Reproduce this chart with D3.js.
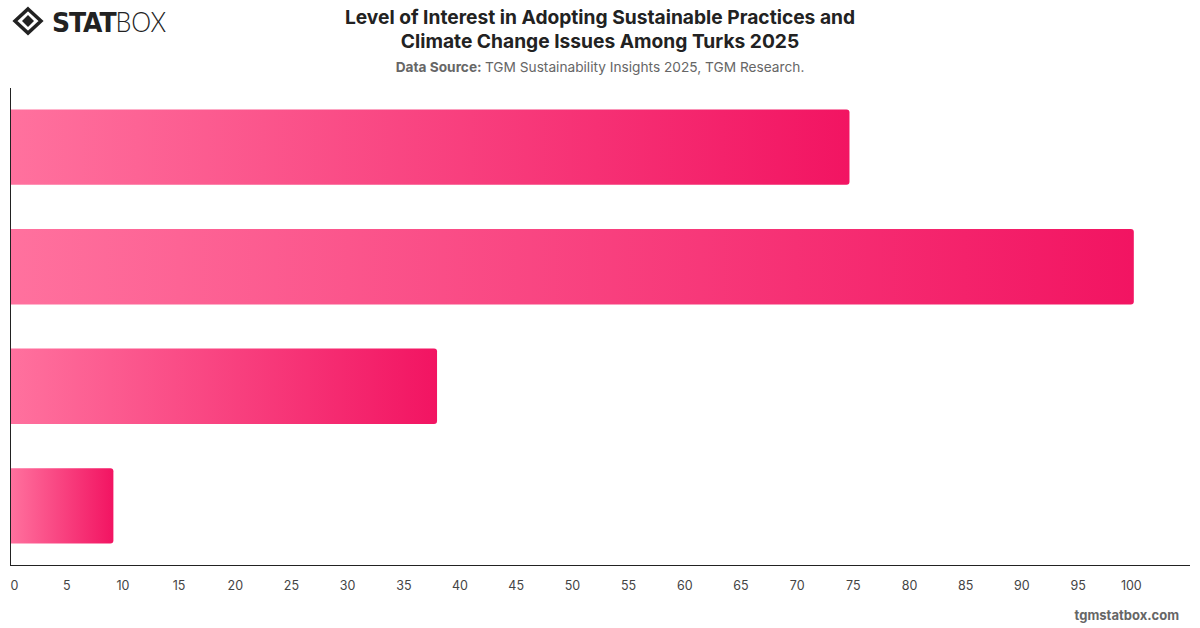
<!DOCTYPE html>
<html>
<head>
<meta charset="utf-8">
<script src="https://cdn.jsdelivr.net/npm/d3@7"></script>
<style>
  html, body { margin: 0; padding: 0; background: #fff; }
  svg { display: block; font-family: Inter, "Noto Sans", sans-serif; }
</style>
</head>
<body>
<svg id="chart" width="1200" height="628"></svg>
<script>
(function () {
  'use strict';

  // ── Data ────────────────────────────────────────────────────────────────
  const categories = ['Very interested', 'Somewhat interested', 'Slightly interested', 'Not interested'];
  const values = [74.7, 100, 38.0, 9.2];
  const xTicks = d3.range(0, 101, 5);

  const W = 1200, H = 628;
  const M = { left: 10, right: 10, top: 88, bottom: 63 };
  const svg = d3.select('#chart');

  // ── Gradient ────────────────────────────────────────────────────────────
  const defs = svg.append('defs');
  const grad = defs.append('linearGradient').attr('id', 'barGrad')
    .attr('x1', '0%').attr('x2', '100%').attr('y1', '0%').attr('y2', '0%');
  grad.append('stop').attr('offset', '0%').attr('stop-color', '#ff719e');
  grad.append('stop').attr('offset', '100%').attr('stop-color', '#f21462');

  // ── Scales ──────────────────────────────────────────────────────────────
  const x = d3.scaleLinear().domain([0, 105]).range([M.left, W - M.right]);
  const y = d3.scaleBand().domain(categories).range([M.top, H - M.bottom]).paddingInner(0.37).paddingOuter(0.18);

  // ── Bars (rounded on the right) ─────────────────────────────────────────
  const r = 3;
  svg.append('g').selectAll('path').data(categories).join('path')
    .attr('fill', 'url(#barGrad)')
    .attr('d', (c, i) => {
      const x0 = x(0) + 0.5, x1 = x(values[i]), y0 = y(c), h = y.bandwidth();
      return `M${x0},${y0}H${x1 - r}Q${x1},${y0} ${x1},${y0 + r}V${y0 + h - r}Q${x1},${y0 + h} ${x1 - r},${y0 + h}H${x0}Z`;
    });

  // ── Axes ────────────────────────────────────────────────────────────────
  const axisY = H - M.bottom;
  svg.append('line').attr('x1', M.left + 0.5).attr('x2', M.left + 0.5)
    .attr('y1', M.top).attr('y2', axisY + 0.5).attr('stroke', '#222').attr('stroke-width', 1);

  const xAxis = svg.append('g').attr('transform', `translate(0,${axisY + 0.5})`)
    .call(d3.axisBottom(x).tickValues(xTicks).tickSize(0).tickPadding(16));
  xAxis.select('.domain').attr('stroke', '#222').attr('d', `M${M.left},0H${W - M.right}`);
  xAxis.selectAll('text').attr('font-size', 12.5).attr('fill', '#444')
    .attr('font-family', 'Inter, "Noto Sans", sans-serif')
    .attr('dx', d => d === 0 ? 4 : (d === 100 ? -3 : 0));

  // ── Titles ──────────────────────────────────────────────────────────────
  const title = svg.append('text').attr('text-anchor', 'middle')
    .attr('font-size', 19.2).attr('font-weight', 700).attr('fill', '#222');
  title.append('tspan').attr('x', 600).attr('y', 24).text('Level of Interest in Adopting Sustainable Practices and');
  title.append('tspan').attr('x', 600).attr('y', 48).text('Climate Change Issues Among Turks 2025');

  const sub = svg.append('text').attr('x', 600).attr('y', 72).attr('text-anchor', 'middle')
    .attr('font-size', 13.7).attr('fill', '#666');
  sub.append('tspan').attr('font-weight', 700).text('Data Source: ');
  sub.append('tspan').text('TGM Sustainability Insights 2025, TGM Research.');

  svg.append('text').attr('x', 1179).attr('y', 620).attr('text-anchor', 'end')
    .attr('font-size', 13).attr('font-weight', 700).attr('fill', '#666').text('tgmstatbox.com');

  // ── Logo ────────────────────────────────────────────────────────────────
  const logo = svg.append('g').attr('transform', 'translate(28,21)');
  logo.append('path').attr('d', 'M0,-12L13,0L0,12L-13,0Z').attr('fill', 'none')
    .attr('stroke', '#222').attr('stroke-width', 3.5);
  logo.append('path').attr('d', 'M0,-6L6,0L0,6L-6,0Z').attr('fill', '#222');
  const lt = svg.append('g').attr('transform', 'translate(52,32) scale(0.93,1)')
    .append('text').attr('x', 0).attr('y', 0).attr('font-size', 27).attr('fill', '#222')
    .attr('font-family', '"DejaVu Sans", sans-serif');
  lt.append('tspan').attr('font-weight', 900).attr('letter-spacing', -1.2).text('STAT');
  lt.append('tspan').attr('font-weight', 300).attr('font-family', 'Lato, "Open Sans", sans-serif').text('BOX');
})();
</script>
</body>
</html>
